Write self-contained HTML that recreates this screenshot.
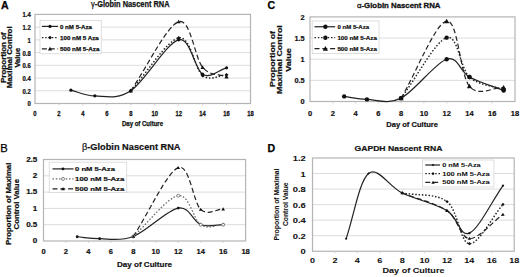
<!DOCTYPE html>
<html><head><meta charset="utf-8"><title>Nascent RNA</title>
<style>html,body{margin:0;padding:0;background:#fff;}body{width:520px;height:277px;overflow:hidden;}svg{display:block;}</style>
</head><body>
<svg width="520" height="277" viewBox="0 0 520 277" font-family='"Liberation Sans", sans-serif'>
<rect width="520" height="277" fill="#fff"/>
<line x1="35" y1="90.77" x2="250.5" y2="90.77" stroke="#dcdcdc" stroke-width="1"/>
<line x1="35" y1="78.04" x2="250.5" y2="78.04" stroke="#dcdcdc" stroke-width="1"/>
<line x1="35" y1="65.31" x2="250.5" y2="65.31" stroke="#dcdcdc" stroke-width="1"/>
<line x1="35" y1="52.59" x2="250.5" y2="52.59" stroke="#dcdcdc" stroke-width="1"/>
<line x1="35" y1="39.86" x2="250.5" y2="39.86" stroke="#dcdcdc" stroke-width="1"/>
<line x1="35" y1="27.13" x2="250.5" y2="27.13" stroke="#dcdcdc" stroke-width="1"/>
<rect x="35" y="14.4" width="215.5" height="89.1" fill="none" stroke="#b4b4b4" stroke-width="1.2"/>
<line x1="58.94" y1="103.5" x2="58.94" y2="105.5" stroke="#c8c8c8" stroke-width="0.8"/>
<line x1="82.89" y1="103.5" x2="82.89" y2="105.5" stroke="#c8c8c8" stroke-width="0.8"/>
<line x1="106.83" y1="103.5" x2="106.83" y2="105.5" stroke="#c8c8c8" stroke-width="0.8"/>
<line x1="130.78" y1="103.5" x2="130.78" y2="105.5" stroke="#c8c8c8" stroke-width="0.8"/>
<line x1="154.72" y1="103.5" x2="154.72" y2="105.5" stroke="#c8c8c8" stroke-width="0.8"/>
<line x1="178.67" y1="103.5" x2="178.67" y2="105.5" stroke="#c8c8c8" stroke-width="0.8"/>
<line x1="202.61" y1="103.5" x2="202.61" y2="105.5" stroke="#c8c8c8" stroke-width="0.8"/>
<line x1="226.56" y1="103.5" x2="226.56" y2="105.5" stroke="#c8c8c8" stroke-width="0.8"/>
<text transform="translate(30.8 106.44) scale(0.9 1)" font-size="6.6" font-weight="bold" fill="#111" text-anchor="end" stroke="#111" stroke-width="0.25" >0</text>
<text transform="translate(30.8 93.71) scale(0.9 1)" font-size="6.6" font-weight="bold" fill="#111" text-anchor="end" stroke="#111" stroke-width="0.25" >0.2</text>
<text transform="translate(30.8 80.99) scale(0.9 1)" font-size="6.6" font-weight="bold" fill="#111" text-anchor="end" stroke="#111" stroke-width="0.25" >0.4</text>
<text transform="translate(30.8 68.26) scale(0.9 1)" font-size="6.6" font-weight="bold" fill="#111" text-anchor="end" stroke="#111" stroke-width="0.25" >0.6</text>
<text transform="translate(30.8 55.53) scale(0.9 1)" font-size="6.6" font-weight="bold" fill="#111" text-anchor="end" stroke="#111" stroke-width="0.25" >0.8</text>
<text transform="translate(30.8 42.8) scale(0.9 1)" font-size="6.6" font-weight="bold" fill="#111" text-anchor="end" stroke="#111" stroke-width="0.25" >1</text>
<text transform="translate(30.8 30.07) scale(0.9 1)" font-size="6.6" font-weight="bold" fill="#111" text-anchor="end" stroke="#111" stroke-width="0.25" >1.2</text>
<text transform="translate(30.8 17.34) scale(0.9 1)" font-size="6.6" font-weight="bold" fill="#111" text-anchor="end" stroke="#111" stroke-width="0.25" >1.4</text>
<text transform="translate(35 115.71) scale(0.86 1)" font-size="6.8" font-weight="bold" fill="#111" text-anchor="middle" stroke="#111" stroke-width="0.25" >0</text>
<text transform="translate(58.94 115.71) scale(0.86 1)" font-size="6.8" font-weight="bold" fill="#111" text-anchor="middle" stroke="#111" stroke-width="0.25" >2</text>
<text transform="translate(82.89 115.71) scale(0.86 1)" font-size="6.8" font-weight="bold" fill="#111" text-anchor="middle" stroke="#111" stroke-width="0.25" >4</text>
<text transform="translate(106.83 115.71) scale(0.86 1)" font-size="6.8" font-weight="bold" fill="#111" text-anchor="middle" stroke="#111" stroke-width="0.25" >6</text>
<text transform="translate(130.78 115.71) scale(0.86 1)" font-size="6.8" font-weight="bold" fill="#111" text-anchor="middle" stroke="#111" stroke-width="0.25" >8</text>
<text transform="translate(154.72 115.71) scale(0.86 1)" font-size="6.8" font-weight="bold" fill="#111" text-anchor="middle" stroke="#111" stroke-width="0.25" >10</text>
<text transform="translate(178.67 115.71) scale(0.86 1)" font-size="6.8" font-weight="bold" fill="#111" text-anchor="middle" stroke="#111" stroke-width="0.25" >12</text>
<text transform="translate(202.61 115.71) scale(0.86 1)" font-size="6.8" font-weight="bold" fill="#111" text-anchor="middle" stroke="#111" stroke-width="0.25" >14</text>
<text transform="translate(226.56 115.71) scale(0.86 1)" font-size="6.8" font-weight="bold" fill="#111" text-anchor="middle" stroke="#111" stroke-width="0.25" >16</text>
<text transform="translate(250.5 115.71) scale(0.86 1)" font-size="6.8" font-weight="bold" fill="#111" text-anchor="middle" stroke="#111" stroke-width="0.25" >18</text>
<text transform="translate(91 7.25)" font-size="8.3" font-weight="bold" fill="#111" text-anchor="start" stroke="#111" stroke-width="0.25" textLength="78.5" lengthAdjust="spacingAndGlyphs" ><tspan font-weight="normal">γ</tspan>-Globin Nascent RNA</text>
<text transform="translate(122 126.3)" font-size="6.5" font-weight="bold" fill="#111" text-anchor="start" stroke="#111" stroke-width="0.25" textLength="41" lengthAdjust="spacingAndGlyphs" >Day of Culture</text>
<text transform="translate(5.7 83) rotate(-90)" font-size="6.3" font-weight="bold" fill="#111" text-anchor="start" stroke="#111" stroke-width="0.25" textLength="50.8" lengthAdjust="spacingAndGlyphs" >Proportion of</text>
<text transform="translate(12.4 88.3) rotate(-90)" font-size="6.3" font-weight="bold" fill="#111" text-anchor="start" stroke="#111" stroke-width="0.25" textLength="62" lengthAdjust="spacingAndGlyphs" >Maximal Control</text>
<text transform="translate(19.5 67.6) rotate(-90)" font-size="6.3" font-weight="bold" fill="#111" text-anchor="start" stroke="#111" stroke-width="0.25" textLength="19.8" lengthAdjust="spacingAndGlyphs" >Value</text>
<path d="M70.92,90.14 C78.9,92.04 84.88,95.76 94.86,95.86 C104.84,95.97 116.81,100.11 130.78,90.77 C144.75,81.44 166.69,42.61 178.67,39.86 C190.64,37.1 194.63,69.56 202.61,74.22 C210.59,78.89 218.57,69.98 226.56,67.86" fill="none" stroke="#222" stroke-width="1.2" />
<path d="M130.78,90.77 C146.74,73.16 166.69,40.49 178.67,37.95 C190.64,35.4 194.63,69.34 202.61,75.5 C210.59,81.65 218.57,75.07 226.56,74.86" fill="none" stroke="#222" stroke-width="1.45" stroke-dasharray="1.5 1.8" stroke-linecap="butt"/>
<path d="M130.78,90.77 C146.74,67.75 166.69,25.64 178.67,21.72 C190.64,17.79 194.63,58.05 202.61,67.22 C210.59,76.4 218.57,73.59 226.56,76.77" fill="none" stroke="#222" stroke-width="1.2" stroke-dasharray="5 2.8"/>
<circle cx="70.92" cy="90.14" r="1.6" fill="#111"/>
<circle cx="94.86" cy="95.86" r="1.6" fill="#111"/>
<circle cx="130.78" cy="90.77" r="1.6" fill="#111"/>
<circle cx="178.67" cy="39.86" r="1.6" fill="#111"/>
<circle cx="202.61" cy="74.22" r="1.6" fill="#111"/>
<circle cx="226.56" cy="67.86" r="1.6" fill="#111"/>
<path d="M130.78,88.87 L132.68,90.77 L130.78,92.67 L128.88,90.77Z" fill="#111"/>
<path d="M178.67,36.05 L180.57,37.95 L178.67,39.85 L176.77,37.95Z" fill="#111"/>
<path d="M202.61,73.6 L204.51,75.5 L202.61,77.4 L200.71,75.5Z" fill="#111"/>
<path d="M226.56,72.96 L228.46,74.86 L226.56,76.76 L224.66,74.86Z" fill="#111"/>
<path d="M130.78,88.75 L132.88,92.43 L128.68,92.43Z" fill="#111"/>
<path d="M178.67,19.7 L180.77,23.37 L176.57,23.37Z" fill="#111"/>
<path d="M202.61,65.2 L204.71,68.88 L200.51,68.88Z" fill="#111"/>
<path d="M226.56,74.75 L228.66,78.42 L224.46,78.42Z" fill="#111"/>
<rect x="40" y="20.5" width="61.25" height="33.25" fill="#fff" stroke="#d6d6d6" stroke-width="0.8"/>
<line x1="41.9" y1="26.4" x2="58.1" y2="26.4" stroke="#222" stroke-width="1.2" />
<circle cx="50" cy="26.4" r="1.6" fill="#111"/>
<text transform="translate(60 28.53)" font-size="6" font-weight="bold" fill="#111" text-anchor="start" stroke="#111" stroke-width="0.25" textLength="32" lengthAdjust="spacingAndGlyphs" >0 nM 5-Aza</text>
<line x1="41.9" y1="37.6" x2="58.1" y2="37.6" stroke="#222" stroke-width="1.2" stroke-dasharray="1.5 1.8" stroke-linecap="butt"/>
<path d="M50,35.7 L51.9,37.6 L50,39.5 L48.1,37.6Z" fill="#111"/>
<text transform="translate(60 39.73)" font-size="6" font-weight="bold" fill="#111" text-anchor="start" stroke="#111" stroke-width="0.25" textLength="38.8" lengthAdjust="spacingAndGlyphs" >100 nM 5 Aza</text>
<line x1="41.9" y1="48.8" x2="58.1" y2="48.8" stroke="#222" stroke-width="1.2" stroke-dasharray="5 2.8"/>
<path d="M50,46.78 L52.1,50.45 L47.9,50.45Z" fill="#111"/>
<text transform="translate(60 50.93)" font-size="6" font-weight="bold" fill="#111" text-anchor="start" stroke="#111" stroke-width="0.25" textLength="39.4" lengthAdjust="spacingAndGlyphs" >500 nM 5-Aza</text>
<text transform="translate(1 9)" font-size="10.6" font-weight="bold" fill="#000" text-anchor="start" stroke="#000" stroke-width="0.25" >A</text>
<line x1="43.5" y1="224.7" x2="245.6" y2="224.7" stroke="#dcdcdc" stroke-width="1"/>
<line x1="43.5" y1="208.4" x2="245.6" y2="208.4" stroke="#dcdcdc" stroke-width="1"/>
<line x1="43.5" y1="192.1" x2="245.6" y2="192.1" stroke="#dcdcdc" stroke-width="1"/>
<line x1="43.5" y1="175.8" x2="245.6" y2="175.8" stroke="#dcdcdc" stroke-width="1"/>
<rect x="43.5" y="159.5" width="202.1" height="81.5" fill="none" stroke="#b4b4b4" stroke-width="1.2"/>
<line x1="65.96" y1="241" x2="65.96" y2="243" stroke="#c8c8c8" stroke-width="0.8"/>
<line x1="88.41" y1="241" x2="88.41" y2="243" stroke="#c8c8c8" stroke-width="0.8"/>
<line x1="110.87" y1="241" x2="110.87" y2="243" stroke="#c8c8c8" stroke-width="0.8"/>
<line x1="133.32" y1="241" x2="133.32" y2="243" stroke="#c8c8c8" stroke-width="0.8"/>
<line x1="155.78" y1="241" x2="155.78" y2="243" stroke="#c8c8c8" stroke-width="0.8"/>
<line x1="178.23" y1="241" x2="178.23" y2="243" stroke="#c8c8c8" stroke-width="0.8"/>
<line x1="200.69" y1="241" x2="200.69" y2="243" stroke="#c8c8c8" stroke-width="0.8"/>
<line x1="223.14" y1="241" x2="223.14" y2="243" stroke="#c8c8c8" stroke-width="0.8"/>
<text transform="translate(37.3 243.19) scale(1.1 1)" font-size="7.3" font-weight="bold" fill="#111" text-anchor="end" stroke="#111" stroke-width="0.2" >0</text>
<text transform="translate(37.3 226.89) scale(1.1 1)" font-size="7.3" font-weight="bold" fill="#111" text-anchor="end" stroke="#111" stroke-width="0.2" >0.5</text>
<text transform="translate(37.3 210.59) scale(1.1 1)" font-size="7.3" font-weight="bold" fill="#111" text-anchor="end" stroke="#111" stroke-width="0.2" >1</text>
<text transform="translate(37.3 194.29) scale(1.1 1)" font-size="7.3" font-weight="bold" fill="#111" text-anchor="end" stroke="#111" stroke-width="0.2" >1.5</text>
<text transform="translate(37.3 177.99) scale(1.1 1)" font-size="7.3" font-weight="bold" fill="#111" text-anchor="end" stroke="#111" stroke-width="0.2" >2</text>
<text transform="translate(37.3 161.69) scale(1.1 1)" font-size="7.3" font-weight="bold" fill="#111" text-anchor="end" stroke="#111" stroke-width="0.2" >2.5</text>
<text transform="translate(43.5 254.03) scale(1.02 1)" font-size="7.4" font-weight="bold" fill="#111" text-anchor="middle" stroke="#111" stroke-width="0.2" >0</text>
<text transform="translate(65.96 254.03) scale(1.02 1)" font-size="7.4" font-weight="bold" fill="#111" text-anchor="middle" stroke="#111" stroke-width="0.2" >2</text>
<text transform="translate(88.41 254.03) scale(1.02 1)" font-size="7.4" font-weight="bold" fill="#111" text-anchor="middle" stroke="#111" stroke-width="0.2" >4</text>
<text transform="translate(110.87 254.03) scale(1.02 1)" font-size="7.4" font-weight="bold" fill="#111" text-anchor="middle" stroke="#111" stroke-width="0.2" >6</text>
<text transform="translate(133.32 254.03) scale(1.02 1)" font-size="7.4" font-weight="bold" fill="#111" text-anchor="middle" stroke="#111" stroke-width="0.2" >8</text>
<text transform="translate(155.78 254.03) scale(1.02 1)" font-size="7.4" font-weight="bold" fill="#111" text-anchor="middle" stroke="#111" stroke-width="0.2" >10</text>
<text transform="translate(178.23 254.03) scale(1.02 1)" font-size="7.4" font-weight="bold" fill="#111" text-anchor="middle" stroke="#111" stroke-width="0.2" >12</text>
<text transform="translate(200.69 254.03) scale(1.02 1)" font-size="7.4" font-weight="bold" fill="#111" text-anchor="middle" stroke="#111" stroke-width="0.2" >14</text>
<text transform="translate(223.14 254.03) scale(1.02 1)" font-size="7.4" font-weight="bold" fill="#111" text-anchor="middle" stroke="#111" stroke-width="0.2" >16</text>
<text transform="translate(245.6 254.03) scale(1.02 1)" font-size="7.4" font-weight="bold" fill="#111" text-anchor="middle" stroke="#111" stroke-width="0.2" >18</text>
<text transform="translate(82 149.6)" font-size="9" font-weight="bold" fill="#111" text-anchor="start" stroke="#111" stroke-width="0.2" textLength="98.5" lengthAdjust="spacingAndGlyphs" ><tspan font-weight="normal">β</tspan>-Globin Nascent RNA</text>
<text transform="translate(117 267.2)" font-size="8" font-weight="bold" fill="#111" text-anchor="start" stroke="#111" stroke-width="0.2" textLength="55" lengthAdjust="spacingAndGlyphs" >Day of Culture</text>
<text transform="translate(10.7 245) rotate(-90)" font-size="6.7" font-weight="bold" fill="#111" text-anchor="start" stroke="#111" stroke-width="0.2" textLength="82.4" lengthAdjust="spacingAndGlyphs" >Proportion of Maximal</text>
<text transform="translate(19.2 229.5) rotate(-90)" font-size="6.7" font-weight="bold" fill="#111" text-anchor="start" stroke="#111" stroke-width="0.2" textLength="50.5" lengthAdjust="spacingAndGlyphs" >Control Value</text>
<path d="M77.18,236.76 C84.67,237.41 90.28,238.77 99.64,238.72 C109,238.66 120.22,241.54 133.32,236.44 C146.42,231.33 167.01,210.03 178.23,208.07 C189.46,206.12 193.2,221.93 200.69,224.7 C208.17,227.47 215.66,224.7 223.14,224.7" fill="none" stroke="#222" stroke-width="1.2" />
<path d="M133.32,236.44 C148.29,222.85 167.01,197.64 178.23,195.69 C189.46,193.73 193.2,219.86 200.69,224.7 C208.17,229.54 215.66,224.7 223.14,224.7" fill="none" stroke="#6a6a6a" stroke-width="1.3" stroke-dasharray="1.5 1.8" stroke-linecap="butt"/>
<path d="M133.32,236.44 C148.29,213.51 167.01,172.16 178.23,167.65 C189.46,163.14 193.2,202.48 200.69,209.38 C208.17,216.28 215.66,209.16 223.14,209.05" fill="none" stroke="#222" stroke-width="1.2" stroke-dasharray="5 2.8"/>
<circle cx="77.18" cy="236.76" r="1.4" fill="#111"/>
<circle cx="99.64" cy="238.72" r="1.4" fill="#111"/>
<circle cx="133.32" cy="236.44" r="1.4" fill="#111"/>
<circle cx="178.23" cy="208.07" r="1.4" fill="#111"/>
<circle cx="200.69" cy="224.7" r="1.4" fill="#111"/>
<circle cx="223.14" cy="224.7" r="1.4" fill="#111"/>
<circle cx="133.32" cy="236.44" r="1.5" fill="#fff" stroke="#666" stroke-width="0.8"/>
<circle cx="178.23" cy="195.69" r="1.5" fill="#fff" stroke="#666" stroke-width="0.8"/>
<circle cx="200.69" cy="224.7" r="1.5" fill="#fff" stroke="#666" stroke-width="0.8"/>
<circle cx="223.14" cy="224.7" r="1.5" fill="#fff" stroke="#666" stroke-width="0.8"/>
<path d="M133.32,234.7 L135.12,237.85 L131.52,237.85Z" fill="#111"/>
<path d="M178.23,165.92 L180.03,169.07 L176.43,169.07Z" fill="#111"/>
<path d="M200.69,207.65 L202.49,210.8 L198.89,210.8Z" fill="#111"/>
<path d="M223.14,207.32 L224.94,210.47 L221.34,210.47Z" fill="#111"/>
<rect x="49.2" y="162.2" width="77.5" height="30.3" fill="#fff" stroke="#d6d6d6" stroke-width="0.8"/>
<line x1="52.5" y1="168.9" x2="73.6" y2="168.9" stroke="#222" stroke-width="1.2" />
<circle cx="63" cy="168.9" r="1.4" fill="#111"/>
<text transform="translate(75.1 171.1)" font-size="6.2" font-weight="bold" fill="#111" text-anchor="start" stroke="#111" stroke-width="0.2" textLength="39.8" lengthAdjust="spacingAndGlyphs" >0 nM 5-Aza</text>
<line x1="52.5" y1="178.9" x2="73.6" y2="178.9" stroke="#6a6a6a" stroke-width="1.3" stroke-dasharray="1.5 1.8" stroke-linecap="butt"/>
<circle cx="63" cy="178.9" r="1.5" fill="#fff" stroke="#666" stroke-width="0.8"/>
<text transform="translate(75.1 181.1)" font-size="6.2" font-weight="bold" fill="#111" text-anchor="start" stroke="#111" stroke-width="0.2" textLength="49.2" lengthAdjust="spacingAndGlyphs" >100 nM 5-Aza</text>
<line x1="52.5" y1="188.8" x2="73.6" y2="188.8" stroke="#222" stroke-width="1.2" stroke-dasharray="5 2.8"/>
<path d="M63,187.07 L64.8,190.22 L61.2,190.22Z" fill="#111"/>
<text transform="translate(75.1 191)" font-size="6.2" font-weight="bold" fill="#111" text-anchor="start" stroke="#111" stroke-width="0.2" textLength="49.2" lengthAdjust="spacingAndGlyphs" >500 nM 5-Aza</text>
<text transform="translate(0.3 152.4)" font-size="11.2" font-weight="normal" fill="#000" text-anchor="start" stroke="#000" stroke-width="0.25" >B</text>
<line x1="310" y1="80.35" x2="515" y2="80.35" stroke="#dcdcdc" stroke-width="1"/>
<line x1="310" y1="59.2" x2="515" y2="59.2" stroke="#dcdcdc" stroke-width="1"/>
<line x1="310" y1="38.05" x2="515" y2="38.05" stroke="#dcdcdc" stroke-width="1"/>
<rect x="310" y="16.9" width="205" height="84.6" fill="none" stroke="#b4b4b4" stroke-width="1.2"/>
<line x1="332.78" y1="101.5" x2="332.78" y2="103.5" stroke="#c8c8c8" stroke-width="0.8"/>
<line x1="355.56" y1="101.5" x2="355.56" y2="103.5" stroke="#c8c8c8" stroke-width="0.8"/>
<line x1="378.33" y1="101.5" x2="378.33" y2="103.5" stroke="#c8c8c8" stroke-width="0.8"/>
<line x1="401.11" y1="101.5" x2="401.11" y2="103.5" stroke="#c8c8c8" stroke-width="0.8"/>
<line x1="423.89" y1="101.5" x2="423.89" y2="103.5" stroke="#c8c8c8" stroke-width="0.8"/>
<line x1="446.67" y1="101.5" x2="446.67" y2="103.5" stroke="#c8c8c8" stroke-width="0.8"/>
<line x1="469.44" y1="101.5" x2="469.44" y2="103.5" stroke="#c8c8c8" stroke-width="0.8"/>
<line x1="492.22" y1="101.5" x2="492.22" y2="103.5" stroke="#c8c8c8" stroke-width="0.8"/>
<text transform="translate(304.6 104.28) scale(1.05 1)" font-size="7" font-weight="bold" fill="#111" text-anchor="end" stroke="#111" stroke-width="0.2" >0</text>
<text transform="translate(304.6 83.13) scale(1.05 1)" font-size="7" font-weight="bold" fill="#111" text-anchor="end" stroke="#111" stroke-width="0.2" >0.5</text>
<text transform="translate(304.6 61.98) scale(1.05 1)" font-size="7" font-weight="bold" fill="#111" text-anchor="end" stroke="#111" stroke-width="0.2" >1</text>
<text transform="translate(304.6 40.84) scale(1.05 1)" font-size="7" font-weight="bold" fill="#111" text-anchor="end" stroke="#111" stroke-width="0.2" >1.5</text>
<text transform="translate(304.6 19.69) scale(1.05 1)" font-size="7" font-weight="bold" fill="#111" text-anchor="end" stroke="#111" stroke-width="0.2" >2</text>
<text transform="translate(310 115.66) scale(1 1)" font-size="7.5" font-weight="bold" fill="#111" text-anchor="middle" stroke="#111" stroke-width="0.2" >0</text>
<text transform="translate(332.78 115.66) scale(1 1)" font-size="7.5" font-weight="bold" fill="#111" text-anchor="middle" stroke="#111" stroke-width="0.2" >2</text>
<text transform="translate(355.56 115.66) scale(1 1)" font-size="7.5" font-weight="bold" fill="#111" text-anchor="middle" stroke="#111" stroke-width="0.2" >4</text>
<text transform="translate(378.33 115.66) scale(1 1)" font-size="7.5" font-weight="bold" fill="#111" text-anchor="middle" stroke="#111" stroke-width="0.2" >6</text>
<text transform="translate(401.11 115.66) scale(1 1)" font-size="7.5" font-weight="bold" fill="#111" text-anchor="middle" stroke="#111" stroke-width="0.2" >8</text>
<text transform="translate(423.89 115.66) scale(1 1)" font-size="7.5" font-weight="bold" fill="#111" text-anchor="middle" stroke="#111" stroke-width="0.2" >10</text>
<text transform="translate(446.67 115.66) scale(1 1)" font-size="7.5" font-weight="bold" fill="#111" text-anchor="middle" stroke="#111" stroke-width="0.2" >12</text>
<text transform="translate(469.44 115.66) scale(1 1)" font-size="7.5" font-weight="bold" fill="#111" text-anchor="middle" stroke="#111" stroke-width="0.2" >14</text>
<text transform="translate(492.22 115.66) scale(1 1)" font-size="7.5" font-weight="bold" fill="#111" text-anchor="middle" stroke="#111" stroke-width="0.2" >16</text>
<text transform="translate(515 115.66) scale(1 1)" font-size="7.5" font-weight="bold" fill="#111" text-anchor="middle" stroke="#111" stroke-width="0.2" >18</text>
<text transform="translate(357 7.8)" font-size="7.7" font-weight="bold" fill="#111" text-anchor="start" stroke="#111" stroke-width="0.3" textLength="83.5" lengthAdjust="spacingAndGlyphs" ><tspan font-weight="normal">α</tspan>-Globin Nascent RNA</text>
<text transform="translate(386.25 127.2)" font-size="7.5" font-weight="bold" fill="#111" text-anchor="start" stroke="#111" stroke-width="0.2" textLength="51.75" lengthAdjust="spacingAndGlyphs" >Day of Culture</text>
<text transform="translate(274.9 87) rotate(-90)" font-size="6.6" font-weight="bold" fill="#111" text-anchor="start" stroke="#111" stroke-width="0.2" textLength="56" lengthAdjust="spacingAndGlyphs" >Proportion of</text>
<text transform="translate(282.3 93.9) rotate(-90)" font-size="6.6" font-weight="bold" fill="#111" text-anchor="start" stroke="#111" stroke-width="0.2" textLength="68.7" lengthAdjust="spacingAndGlyphs" >Maximal Control</text>
<text transform="translate(290.8 71.8) rotate(-90)" font-size="6.6" font-weight="bold" fill="#111" text-anchor="start" stroke="#111" stroke-width="0.2" textLength="23.6" lengthAdjust="spacingAndGlyphs" >Value</text>
<path d="M344.17,96.42 C351.76,97.41 357.45,99.1 366.94,99.39 C376.44,99.67 387.82,104.81 401.11,98.12 C414.4,91.42 435.28,62.73 446.67,59.2 C458.06,55.68 459.95,71.75 469.44,76.97 C478.94,82.18 492.22,85.99 503.61,90.5" fill="none" stroke="#222" stroke-width="1.2" />
<path d="M401.11,98.12 C416.3,77.95 435.28,41.15 446.67,37.63 C458.06,34.1 459.95,68.29 469.44,76.97 C478.94,85.64 492.22,85.43 503.61,89.66" fill="none" stroke="#222" stroke-width="1.45" stroke-dasharray="1.5 1.8" stroke-linecap="butt"/>
<path d="M401.11,98.12 C416.3,72.45 435.28,23.1 446.67,21.13 C458.06,19.16 459.95,75.2 469.44,86.27 C478.94,97.34 492.22,87.12 503.61,87.54" fill="none" stroke="#222" stroke-width="1.2" stroke-dasharray="5 2.8"/>
<circle cx="344.17" cy="96.42" r="2.2" fill="#111"/>
<circle cx="366.94" cy="99.39" r="2.2" fill="#111"/>
<circle cx="401.11" cy="98.12" r="2.2" fill="#111"/>
<circle cx="446.67" cy="59.2" r="2.2" fill="#111"/>
<circle cx="469.44" cy="76.97" r="2.2" fill="#111"/>
<circle cx="503.61" cy="90.5" r="2.2" fill="#111"/>
<circle cx="401.11" cy="98.12" r="2.2" fill="#111"/>
<circle cx="446.67" cy="37.63" r="2.2" fill="#111"/>
<circle cx="469.44" cy="76.97" r="2.2" fill="#111"/>
<circle cx="503.61" cy="89.66" r="2.2" fill="#111"/>
<path d="M401.11,95.61 L403.71,100.16 L398.51,100.16Z" fill="#111"/>
<path d="M446.67,18.63 L449.27,23.18 L444.07,23.18Z" fill="#111"/>
<path d="M469.44,83.77 L472.04,88.32 L466.84,88.32Z" fill="#111"/>
<path d="M503.61,85.04 L506.21,89.59 L501.01,89.59Z" fill="#111"/>
<rect x="312.2" y="21" width="66.8" height="32.5" fill="#fff" stroke="#d6d6d6" stroke-width="0.8"/>
<line x1="314.5" y1="26.75" x2="335.2" y2="26.75" stroke="#222" stroke-width="1.2" />
<circle cx="325.4" cy="26.75" r="2.2" fill="#111"/>
<text transform="translate(337.4 28.88)" font-size="6" font-weight="bold" fill="#111" text-anchor="start" stroke="#111" stroke-width="0.2" textLength="31.7" lengthAdjust="spacingAndGlyphs" >0 nM 5-Aza</text>
<line x1="314.5" y1="37.7" x2="335.2" y2="37.7" stroke="#222" stroke-width="1.2" stroke-dasharray="1.5 1.8" stroke-linecap="butt"/>
<circle cx="325.4" cy="37.7" r="2.2" fill="#111"/>
<text transform="translate(337.4 39.83)" font-size="6" font-weight="bold" fill="#111" text-anchor="start" stroke="#111" stroke-width="0.2" textLength="39.5" lengthAdjust="spacingAndGlyphs" >100 nM 5-Aza</text>
<line x1="314.5" y1="48.6" x2="335.2" y2="48.6" stroke="#222" stroke-width="1.2" stroke-dasharray="5 2.8"/>
<path d="M325.4,46.1 L328,50.65 L322.8,50.65Z" fill="#111"/>
<text transform="translate(337.4 50.73)" font-size="6" font-weight="bold" fill="#111" text-anchor="start" stroke="#111" stroke-width="0.2" textLength="39.5" lengthAdjust="spacingAndGlyphs" >500 nM 5-Aza</text>
<text transform="translate(267.4 9.3)" font-size="10.6" font-weight="bold" fill="#000" text-anchor="start" stroke="#000" stroke-width="0.25" >C</text>
<line x1="312.5" y1="235.71" x2="514.2" y2="235.71" stroke="#dcdcdc" stroke-width="1"/>
<line x1="312.5" y1="220.17" x2="514.2" y2="220.17" stroke="#dcdcdc" stroke-width="1"/>
<line x1="312.5" y1="204.62" x2="514.2" y2="204.62" stroke="#dcdcdc" stroke-width="1"/>
<line x1="312.5" y1="189.08" x2="514.2" y2="189.08" stroke="#dcdcdc" stroke-width="1"/>
<line x1="312.5" y1="173.54" x2="514.2" y2="173.54" stroke="#dcdcdc" stroke-width="1"/>
<rect x="312.5" y="158" width="201.7" height="93.25" fill="none" stroke="#b4b4b4" stroke-width="1.2"/>
<line x1="334.91" y1="251.25" x2="334.91" y2="253.25" stroke="#c8c8c8" stroke-width="0.8"/>
<line x1="357.32" y1="251.25" x2="357.32" y2="253.25" stroke="#c8c8c8" stroke-width="0.8"/>
<line x1="379.73" y1="251.25" x2="379.73" y2="253.25" stroke="#c8c8c8" stroke-width="0.8"/>
<line x1="402.14" y1="251.25" x2="402.14" y2="253.25" stroke="#c8c8c8" stroke-width="0.8"/>
<line x1="424.56" y1="251.25" x2="424.56" y2="253.25" stroke="#c8c8c8" stroke-width="0.8"/>
<line x1="446.97" y1="251.25" x2="446.97" y2="253.25" stroke="#c8c8c8" stroke-width="0.8"/>
<line x1="469.38" y1="251.25" x2="469.38" y2="253.25" stroke="#c8c8c8" stroke-width="0.8"/>
<line x1="491.79" y1="251.25" x2="491.79" y2="253.25" stroke="#c8c8c8" stroke-width="0.8"/>
<text transform="translate(305.7 254.39) scale(1.42 1)" font-size="6.6" font-weight="bold" fill="#111" text-anchor="end" stroke="#111" stroke-width="0.05" >0</text>
<text transform="translate(305.7 238.85) scale(1.42 1)" font-size="6.6" font-weight="bold" fill="#111" text-anchor="end" stroke="#111" stroke-width="0.05" >0.2</text>
<text transform="translate(305.7 223.31) scale(1.42 1)" font-size="6.6" font-weight="bold" fill="#111" text-anchor="end" stroke="#111" stroke-width="0.05" >0.4</text>
<text transform="translate(305.7 207.77) scale(1.42 1)" font-size="6.6" font-weight="bold" fill="#111" text-anchor="end" stroke="#111" stroke-width="0.05" >0.6</text>
<text transform="translate(305.7 192.23) scale(1.42 1)" font-size="6.6" font-weight="bold" fill="#111" text-anchor="end" stroke="#111" stroke-width="0.05" >0.8</text>
<text transform="translate(305.7 176.68) scale(1.42 1)" font-size="6.6" font-weight="bold" fill="#111" text-anchor="end" stroke="#111" stroke-width="0.05" >1</text>
<text transform="translate(305.7 161.14) scale(1.42 1)" font-size="6.6" font-weight="bold" fill="#111" text-anchor="end" stroke="#111" stroke-width="0.05" >1.2</text>
<text transform="translate(312.5 263.49) scale(1.24 1)" font-size="7.3" font-weight="bold" fill="#111" text-anchor="middle" stroke="#111" stroke-width="0.05" >0</text>
<text transform="translate(334.91 263.49) scale(1.24 1)" font-size="7.3" font-weight="bold" fill="#111" text-anchor="middle" stroke="#111" stroke-width="0.05" >2</text>
<text transform="translate(357.32 263.49) scale(1.24 1)" font-size="7.3" font-weight="bold" fill="#111" text-anchor="middle" stroke="#111" stroke-width="0.05" >4</text>
<text transform="translate(379.73 263.49) scale(1.24 1)" font-size="7.3" font-weight="bold" fill="#111" text-anchor="middle" stroke="#111" stroke-width="0.05" >6</text>
<text transform="translate(402.14 263.49) scale(1.24 1)" font-size="7.3" font-weight="bold" fill="#111" text-anchor="middle" stroke="#111" stroke-width="0.05" >8</text>
<text transform="translate(424.56 263.49) scale(1.24 1)" font-size="7.3" font-weight="bold" fill="#111" text-anchor="middle" stroke="#111" stroke-width="0.05" >10</text>
<text transform="translate(446.97 263.49) scale(1.24 1)" font-size="7.3" font-weight="bold" fill="#111" text-anchor="middle" stroke="#111" stroke-width="0.05" >12</text>
<text transform="translate(469.38 263.49) scale(1.24 1)" font-size="7.3" font-weight="bold" fill="#111" text-anchor="middle" stroke="#111" stroke-width="0.05" >14</text>
<text transform="translate(491.79 263.49) scale(1.24 1)" font-size="7.3" font-weight="bold" fill="#111" text-anchor="middle" stroke="#111" stroke-width="0.05" >16</text>
<text transform="translate(514.2 263.49) scale(1.24 1)" font-size="7.3" font-weight="bold" fill="#111" text-anchor="middle" stroke="#111" stroke-width="0.05" >18</text>
<text transform="translate(354.5 151)" font-size="8" font-weight="bold" fill="#111" text-anchor="start" stroke="#111" stroke-width="0.2" textLength="88" lengthAdjust="spacingAndGlyphs" >GAPDH Nascent RNA</text>
<text transform="translate(382.5 273.2)" font-size="7.6" font-weight="bold" fill="#111" text-anchor="start" stroke="#111" stroke-width="0.05" textLength="62" lengthAdjust="spacingAndGlyphs" >Day of Culture</text>
<text transform="translate(279.4 240.6) rotate(-90)" font-size="7" font-weight="bold" fill="#111" text-anchor="start" stroke="#111" stroke-width="0.05" textLength="72.1" lengthAdjust="spacingAndGlyphs" >Proportion of Maximal</text>
<text transform="translate(287.6 226) rotate(-90)" font-size="7" font-weight="bold" fill="#111" text-anchor="start" stroke="#111" stroke-width="0.05" textLength="43.4" lengthAdjust="spacingAndGlyphs" >Control Value</text>
<path d="M346.12,238.82 C353.59,217.06 359.19,181.18 368.53,173.54 C377.87,165.9 389.07,186.79 402.14,192.97 C415.22,199.15 435.76,203.91 446.97,210.61 C458.17,217.3 460.04,237.31 469.38,233.14 C478.72,228.97 491.79,201.44 502.99,185.59" fill="none" stroke="#222" stroke-width="1.2" />
<path d="M402.14,192.97 C417.09,195.82 435.76,193.06 446.97,201.52 C458.17,209.97 460.04,243.23 469.38,243.71 C478.72,244.19 491.79,217.5 502.99,204.39" fill="none" stroke="#222" stroke-width="1.45" stroke-dasharray="1.5 1.8" stroke-linecap="butt"/>
<path d="M402.14,192.97 C417.09,198.85 435.76,203.02 446.97,210.61 C458.17,218.2 460.04,237.87 469.38,238.51 C478.72,239.14 491.79,222.45 502.99,214.42" fill="none" stroke="#222" stroke-width="1.2" stroke-dasharray="5 2.8"/>
<path d="M346.12,237.52 L347.42,238.82 L346.12,240.12 L344.82,238.82Z" fill="#111"/>
<path d="M368.53,172.24 L369.83,173.54 L368.53,174.84 L367.23,173.54Z" fill="#111"/>
<path d="M402.14,191.67 L403.44,192.97 L402.14,194.27 L400.84,192.97Z" fill="#111"/>
<path d="M446.97,209.31 L448.27,210.61 L446.97,211.91 L445.67,210.61Z" fill="#111"/>
<path d="M469.38,231.84 L470.68,233.14 L469.38,234.44 L468.08,233.14Z" fill="#111"/>
<path d="M502.99,184.29 L504.29,185.59 L502.99,186.89 L501.69,185.59Z" fill="#111"/>
<path d="M402.14,191.37 L403.74,192.97 L402.14,194.57 L400.54,192.97Z" fill="#111"/>
<path d="M446.97,199.92 L448.57,201.52 L446.97,203.12 L445.37,201.52Z" fill="#111"/>
<path d="M469.38,242.11 L470.98,243.71 L469.38,245.31 L467.78,243.71Z" fill="#111"/>
<path d="M502.99,202.79 L504.59,204.39 L502.99,205.99 L501.39,204.39Z" fill="#111"/>
<path d="M402.14,191.33 L403.84,194.31 L400.44,194.31Z" fill="#111"/>
<path d="M446.97,208.97 L448.67,211.95 L445.27,211.95Z" fill="#111"/>
<path d="M469.38,236.87 L471.08,239.84 L467.68,239.84Z" fill="#111"/>
<path d="M502.99,212.78 L504.69,215.75 L501.29,215.75Z" fill="#111"/>
<rect x="422.5" y="160" width="71.4" height="27" fill="#fff" stroke="#d6d6d6" stroke-width="0.8"/>
<line x1="425.3" y1="165" x2="440" y2="165" stroke="#222" stroke-width="1.2" />
<path d="M433,163.7 L434.3,165 L433,166.3 L431.7,165Z" fill="#111"/>
<text transform="translate(442.2 167.13)" font-size="6" font-weight="bold" fill="#111" text-anchor="start" stroke="#111" stroke-width="0.05" textLength="38.5" lengthAdjust="spacingAndGlyphs" >0 nM 5-Aza</text>
<line x1="425.3" y1="173.7" x2="440" y2="173.7" stroke="#222" stroke-width="1.2" stroke-dasharray="1.5 1.8" stroke-linecap="butt"/>
<path d="M433,172.1 L434.6,173.7 L433,175.3 L431.4,173.7Z" fill="#111"/>
<text transform="translate(442.2 175.83)" font-size="6" font-weight="bold" fill="#111" text-anchor="start" stroke="#111" stroke-width="0.05" textLength="47.6" lengthAdjust="spacingAndGlyphs" >100 nM 5-Aza</text>
<line x1="425.3" y1="182.3" x2="440" y2="182.3" stroke="#222" stroke-width="1.2" stroke-dasharray="5 2.8"/>
<path d="M433,180.66 L434.7,183.64 L431.3,183.64Z" fill="#111"/>
<text transform="translate(442.2 184.43)" font-size="6" font-weight="bold" fill="#111" text-anchor="start" stroke="#111" stroke-width="0.05" textLength="47.6" lengthAdjust="spacingAndGlyphs" >500 nM 5-Aza</text>
<text transform="translate(267.4 152.4)" font-size="10.6" font-weight="bold" fill="#000" text-anchor="start" stroke="#000" stroke-width="0.25" >D</text>
</svg>
</body></html>
